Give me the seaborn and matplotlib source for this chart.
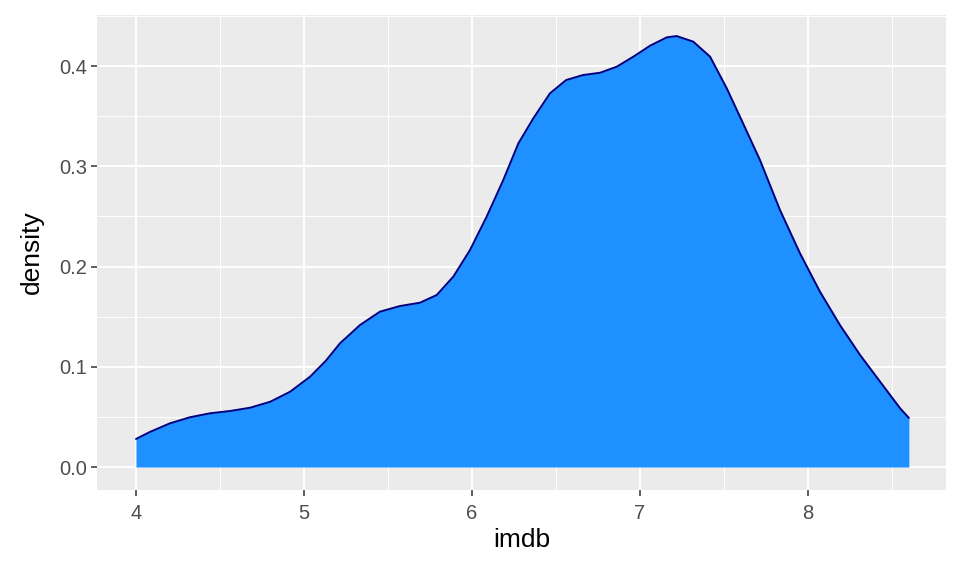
import numpy as np
import pandas as pd
import matplotlib
matplotlib.use("Agg")
import matplotlib.pyplot as plt
import seaborn as sns

# density curve (imdb rating vs density)
imdb = [4.00, 4.083, 4.202, 4.32, 4.44, 4.56, 4.68, 4.80, 4.917, 5.036, 5.13,
        5.214, 5.333, 5.452, 5.571, 5.69, 5.79, 5.889, 5.988, 6.087, 6.186,
        6.276, 6.365, 6.464, 6.56, 6.66, 6.762, 6.861, 6.96, 7.06, 7.159, 7.218,
        7.317, 7.417, 7.516, 7.595, 7.714, 7.833, 7.952, 8.071, 8.19,
        8.31, 8.429, 8.548, 8.60]
density = [0.028, 0.035, 0.0436, 0.0496, 0.0536, 0.0559, 0.0592, 0.0652, 0.0751,
           0.0901, 0.106, 0.1234, 0.1416, 0.155, 0.1606, 0.1639, 0.1716, 0.190,
           0.2165, 0.2497, 0.2863, 0.3229, 0.3479, 0.3728, 0.386, 0.391, 0.3933,
           0.3993, 0.4093, 0.4203, 0.4286, 0.4299, 0.4243, 0.4093, 0.3778,
           0.3494, 0.3062, 0.2564, 0.2132, 0.1749, 0.1416, 0.1117, 0.0851, 0.0586,
           0.049]

df = pd.DataFrame({"imdb": imdb, "density": density})

sns.set_theme(style="darkgrid")
plt.rcParams["font.family"] = ["Liberation Sans", "DejaVu Sans"]

fig = plt.figure(figsize=(9.6, 5.76), dpi=100)
ax = fig.add_axes([97 / 960, 1 - 490 / 576, (946 - 97) / 960, (490 - 15) / 576])
ax.set_facecolor("#EBEBEB")

ax.fill_between(df["imdb"], 0, df["density"], color="#1E90FF", linewidth=0, zorder=2)
sns.lineplot(data=df, x="imdb", y="density", color="#000080", linewidth=1.4, ax=ax, zorder=3)

ax.set_xlim(3.768, 8.821)
ax.set_ylim(-0.0229, 0.4509)
ax.set_xticks([4, 5, 6, 7, 8])
ax.set_yticks([0.0, 0.1, 0.2, 0.3, 0.4])
ax.set_yticklabels(["0.0", "0.1", "0.2", "0.3", "0.4"])
ax.set_xticks(np.arange(4.5, 8.6, 1.0), minor=True)
ax.set_yticks(np.arange(0.05, 0.46, 0.1), minor=True)

ax.grid(which="major", color="white", linewidth=1.4)
ax.grid(which="minor", color="white", linewidth=0.7)
ax.set_axisbelow(True)
for s in ax.spines.values():
    s.set_visible(False)

ax.tick_params(which="major", length=4, width=1.1, color="#333333",
               labelsize=14.5, labelcolor="#4D4D4D")
ax.tick_params(axis="x", which="major", bottom=True, pad=6)
ax.tick_params(axis="y", which="major", left=True, pad=3)
ax.tick_params(which="minor", length=0)

ax.set_xlabel("imdb", fontsize=19, color="black", labelpad=4)
ax.set_ylabel("density", fontsize=19, color="black", labelpad=11)

fig.savefig("out.png", dpi=100, facecolor="white")
